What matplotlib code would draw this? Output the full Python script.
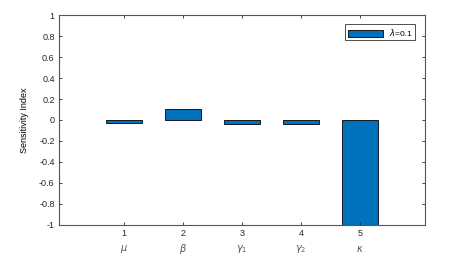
import matplotlib.pyplot as plt
import matplotlib.transforms as mtransforms

positions = [1, 2, 3, 4, 5]
sensitivity = [-0.03, 0.10, -0.035, -0.035, -1.0]
param_labels = [r'$\mu$', r'$\beta$', r'$\gamma_1$', r'$\gamma_2$', r'$\kappa$']
yticks = [-1, -0.8, -0.6, -0.4, -0.2, 0, 0.2, 0.4, 0.6, 0.8, 1]

plt.rcParams['font.family'] = ['Liberation Sans', 'DejaVu Sans']

fig = plt.figure(figsize=(4.56, 2.6), dpi=100)
ax = fig.add_axes([0.129, 0.135, 0.803, 0.807])

ax.bar(positions, sensitivity, width=0.6, color='#0072BD', edgecolor='black',
       linewidth=0.6, label=r'$\lambda$=0.1')

ax.set_xlim(-0.1, 6.1)
ax.set_ylim(-1, 1)
ax.set_xticks(positions)
ax.set_yticks(yticks)
ax.set_yticklabels(['-1', '-0.8', '-0.6', '-0.4', '-0.2', '0', '0.2', '0.4', '0.6', '0.8', '1'])
ax.tick_params(direction='in', length=2.5, width=0.6, labelsize=6.5,
               top=True, right=True, colors='#262626', pad=3)
for s in ax.spines.values():
    s.set_color('#555555')
    s.set_linewidth(0.8)

ax.set_ylabel('Sensitivity Index', fontsize=6.5, labelpad=7)

# greek symbols under the tick numbers
trans = mtransforms.blended_transform_factory(ax.transData, ax.transAxes)
for x, lab in zip(positions, param_labels):
    ax.text(x, -0.115, lab, transform=trans, ha='center', va='center',
            fontsize=7, color='#555555')

leg = ax.legend(loc='upper right', fontsize=6, frameon=True, fancybox=False,
                handlelength=4.2, handleheight=0.9, borderpad=0.3,
                bbox_to_anchor=(0.985, 0.975))
leg.get_frame().set_edgecolor('black')
leg.get_frame().set_linewidth(0.6)

fig.savefig('out.png', dpi=100)
